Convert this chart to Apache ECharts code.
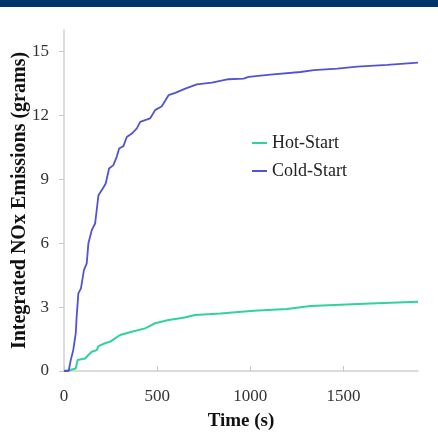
<!DOCTYPE html>
<html>
<head>
<meta charset="utf-8">
<script src="https://cdn.jsdelivr.net/npm/echarts@6/dist/echarts.min.js"></script>
<style>
html,body{margin:0;padding:0;background:#fff;}
#chart{width:438px;height:448px;}
</style>
</head>
<body>
<div id="chart"></div>
<script>
const seriesNames = ['Hot-Start', 'Cold-Start'];
const hotTime = [0, 32, 63, 73, 113, 131, 149, 176, 185, 220, 247, 274, 301, 364, 435, 489, 561, 641, 704, 839, 1018, 1197, 1323, 1484, 1645, 1900];
const hotValue = [0, 0.05, 0.12, 0.52, 0.59, 0.75, 0.9, 0.98, 1.17, 1.3, 1.37, 1.53, 1.69, 1.84, 2.0, 2.24, 2.39, 2.5, 2.63, 2.7, 2.83, 2.91, 3.05, 3.11, 3.17, 3.25];
const coldTime = [0, 25, 36, 50, 63, 68, 77, 91, 107, 122, 131, 149, 167, 185, 208, 224, 242, 265, 283, 296, 319, 337, 364, 391, 409, 462, 489, 525, 561, 597, 651, 713, 794, 883, 964, 991, 1108, 1269, 1341, 1466, 1574, 1735, 1900];
const coldValue = [0, 0, 0.5, 1.0, 1.77, 2.55, 3.64, 3.88, 4.73, 5.05, 5.99, 6.61, 6.92, 8.25, 8.56, 8.8, 9.5, 9.66, 10.05, 10.44, 10.55, 10.98, 11.14, 11.38, 11.69, 11.85, 12.24, 12.42, 12.94, 13.05, 13.25, 13.45, 13.53, 13.69, 13.72, 13.8, 13.91, 14.03, 14.12, 14.19, 14.28, 14.36, 14.47];
const xTicks = [0, 500, 1000, 1500];
const yTicks = [0, 3, 6, 9, 12, 15];

const pair = (t, v) => t.map((x, i) => [x, v[i]]);
const serif = '"Liberation Serif", "Times New Roman", serif';

const chart = echarts.init(document.getElementById('chart'), null, {renderer: 'canvas'});
chart.setOption({
  backgroundColor: '#fff',
  animation: false,
  graphic: [{
    type: 'rect', left: 0, top: 0,
    shape: {width: 438, height: 7},
    style: {fill: '#00356b'}
  }],
  grid: {left: 64, right: 20, top: 30, bottom: 77, containLabel: false, outerBoundsMode: 'none'},
  legend: {
    orient: 'vertical', left: 247, top: 129,
    icon: 'rect', itemWidth: 15, itemHeight: 2, itemGap: 10,
    data: seriesNames,
    textStyle: {fontFamily: serif, fontSize: 18, color: '#222'}
  },
  xAxis: {
    type: 'value', min: 0, max: 1900, interval: 500,
    name: 'Time (s)', nameLocation: 'middle', nameGap: 41,
    nameTextStyle: {fontFamily: serif, fontSize: 19, fontWeight: 'bold', color: '#111'},
    axisLine: {show: true, lineStyle: {color: '#d0d0d0', width: 1.5}},
    axisTick: {show: true, inside: true, length: 5, customValues: xTicks, lineStyle: {color: '#c8c8c8'}},
    axisLabel: {formatter: v => (xTicks.indexOf(v) >= 0 ? String(v) : ''), fontFamily: serif, fontSize: 17, color: '#333', margin: 17},
    splitLine: {show: false}
  },
  yAxis: {
    type: 'value', min: 0, max: 16, interval: 3,
    name: 'Integrated NOx Emissions (grams)', nameLocation: 'middle', nameGap: 34,
    nameMoveOverlap: false,
    nameTextStyle: {fontFamily: serif, fontSize: 20, fontWeight: 'bold', color: '#111'},
    axisLine: {show: true, lineStyle: {color: '#d0d0d0', width: 1.5}},
    axisTick: {show: true, inside: false, length: 5, customValues: yTicks, lineStyle: {color: '#c8c8c8'}},
    axisLabel: {formatter: v => (yTicks.indexOf(v) >= 0 ? String(v) : ''), fontFamily: serif, fontSize: 17, color: '#333', margin: 15},
    splitLine: {show: false}
  },
  series: [
    {name: seriesNames[0], type: 'line', data: pair(hotTime, hotValue), symbol: 'none',
     lineStyle: {color: '#2ed39e', width: 2}, itemStyle: {color: '#2ed39e'}},
    {name: seriesNames[1], type: 'line', data: pair(coldTime, coldValue), symbol: 'none',
     lineStyle: {color: '#5252d8', width: 1.8}, itemStyle: {color: '#5252d8'}}
  ]
});
</script>
</body>
</html>
